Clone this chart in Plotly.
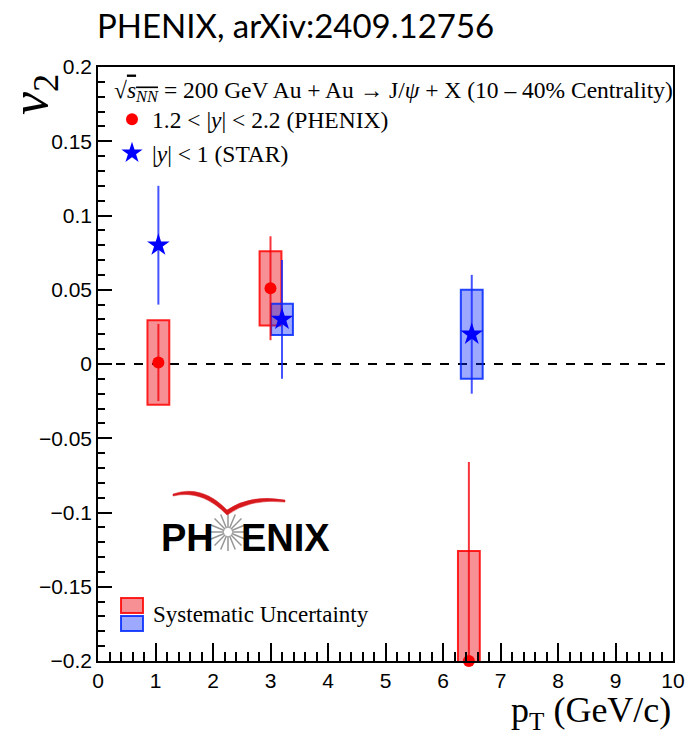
import math
import plotly.graph_objects as go

# ---------------- data ----------------
pt_phenix = [1.05, 3.0, 6.45]
v2_phenix = [0.001, 0.051, -0.2]
stat_phenix = [0.026, 0.035, 0.134]
sys_phenix = [0.0285, 0.025, 0.074]

pt_star = [1.05, 3.2, 6.5]
v2_star = [0.08, 0.03, 0.02]
stat_star = [0.04, 0.04, 0.04]
sys_star = [None, 0.0105, 0.03]

x_ticks = list(range(0, 11))
y_ticks = [-0.2, -0.15, -0.1, -0.05, 0, 0.05, 0.1, 0.15, 0.2]

title_text = "PHENIX, arXiv:2409.12756"
header_text = ("√<span style='text-decoration:overline'><i>s</i><sub><i>NN</i></sub></span>"
               " = 200 GeV Au + Au → J/<i>ψ</i> + X (10 – 40% Centrality)")
name_phenix = "1.2 < |<i>y</i>| < 2.2 (PHENIX)"
name_star = "|<i>y</i>| < 1 (STAR)"
sys_label = "Systematic Uncertainty"

# ---------------- styling ----------------
W, H = 685, 734
ML, MR, MT, MB = 98, 12, 67, 73
XR = [0, 10]
YR = [-0.2, 0.2]
RED = "#ff0000"
BLUE = "#0000ff"
RED_FILL = "rgba(235,20,30,0.47)"
RED_LINE = "rgba(255,0,0,0.85)"
BLUE_FILL = "rgba(10,40,255,0.40)"
BLUE_LINE = "rgba(0,40,255,0.85)"
BOX_W = 0.38
SERIF = "Liberation Serif"
SANS = "Liberation Sans"

pw = W - ML - MR
ph = H - MT - MB


def px2x(px):
    return XR[0] + (px - ML) / pw * (XR[1] - XR[0])


def px2y(py):
    return YR[1] - (py - MT) / ph * (YR[1] - YR[0])


fig = go.Figure()

# systematic boxes
def sys_bars(xs, ys, ss, fill, line):
    bx, by, bb = [], [], []
    for x, y, s in zip(xs, ys, ss):
        if s is None:
            continue
        bx.append(x)
        by.append(2 * s)
        bb.append(y - s)
    return go.Bar(x=bx, y=by, base=bb, width=BOX_W, marker=dict(color=fill, line=dict(color=line, width=2)),
                  showlegend=False, hoverinfo="skip")


fig.add_trace(sys_bars(pt_phenix, v2_phenix, sys_phenix, RED_FILL, RED_LINE))
fig.add_trace(sys_bars(pt_star, v2_star, sys_star, BLUE_FILL, BLUE_LINE))

# statistical error bars (clipped at axes)
fig.add_trace(go.Scatter(x=pt_phenix, y=v2_phenix, mode="markers",
                         marker=dict(size=1, color="rgba(0,0,0,0)"),
                         error_y=dict(type="data", array=stat_phenix, width=0, thickness=2,
                                      color="rgba(245,0,10,0.8)"),
                         showlegend=False, hoverinfo="skip", cliponaxis=True))
fig.add_trace(go.Scatter(x=pt_phenix, y=v2_phenix, mode="markers", name=name_phenix,
                         marker=dict(size=12, color=RED, symbol="circle"),
                         cliponaxis=False))
fig.add_trace(go.Scatter(x=pt_star, y=v2_star, mode="markers",
                         marker=dict(size=1, color="rgba(0,0,0,0)"),
                         error_y=dict(type="data", array=stat_star, width=0, thickness=2,
                                      color="rgba(20,40,255,0.8)"),
                         showlegend=False, hoverinfo="skip", cliponaxis=True))
fig.add_trace(go.Scatter(x=pt_star, y=v2_star, mode="markers", name=name_star,
                         marker=dict(size=17, color=BLUE, symbol="star"),
                         cliponaxis=False))

shapes = []
# dashed zero line
shapes.append(dict(type="line", xref="x", yref="y", x0=XR[0], x1=XR[1], y0=0, y1=0,
                   line=dict(color="black", width=2, dash="dash"), layer="below"))

# Systematic uncertainty legend boxes
shapes.append(dict(type="rect", xref="x", yref="y", x0=px2x(121), x1=px2x(143), y0=px2y(613), y1=px2y(598),
                   fillcolor=RED_FILL, line=dict(color=RED_LINE, width=2)))
shapes.append(dict(type="rect", xref="x", yref="y", x0=px2x(121), x1=px2x(143), y0=px2y(631), y1=px2y(616),
                   fillcolor=BLUE_FILL, line=dict(color=BLUE_LINE, width=2)))

# PHENIX logo: starburst
cx, cy = 228, 532
for k in range(16):
    a = 2 * math.pi * k / 16
    shapes.append(dict(type="line", xref="x", yref="y",
                       x0=px2x(cx + 4 * math.cos(a)), y0=px2y(cy + 4 * math.sin(a)),
                       x1=px2x(cx + 19 * math.cos(a)), y1=px2y(cy + 19 * math.sin(a)),
                       line=dict(color="rgb(150,150,150)", width=1.5)))

# PHENIX logo: red swoosh
def P(px, py):
    return f"{px2x(px):.5f},{px2y(py):.6f}"

swoosh = (f"M{P(173,494)} Q{P(202,484)} {P(227,510)} Q{P(250,494)} {P(285,500)} "
          f"L{P(285,502)} Q{P(250,498)} {P(227,515)} Q{P(202,489)} {P(173,496)} Z")
shapes.append(dict(type="path", xref="x", yref="y", path=swoosh,
                   fillcolor="rgb(215,25,30)", line=dict(color="rgb(215,25,30)", width=0.5)))

annotations = []
annotations.append(dict(text=title_text, xref="paper", yref="paper",
                        x=(95 - ML) / pw, y=(H - MB - 25) / ph, xanchor="left", yanchor="middle",
                        showarrow=False, font=dict(family="Lato", size=33, color="black")))
annotations.append(dict(text="<i>v</i><sub>2</sub>", xref="paper", yref="paper",
                        x=(33 - ML) / pw, y=(H - MB - 95) / ph, xanchor="center", yanchor="middle",
                        textangle=-90, showarrow=False, font=dict(family=SERIF, size=52, color="black")))
annotations.append(dict(text="p<sub>T</sub> (GeV/c)", xref="paper", yref="paper",
                        x=1.0, y=(H - MB - 712) / ph, xanchor="right", yanchor="middle",
                        showarrow=False, font=dict(family=SERIF, size=36, color="black")))
annotations.append(dict(text=sys_label, xref="x", yref="y", x=px2x(151), y=px2y(614),
                        xanchor="left", yanchor="middle", showarrow=False,
                        font=dict(family=SERIF, size=23, color="black")))
annotations.append(dict(text="<b>PH</b>", xref="x", yref="y", x=px2x(216), y=px2y(538),
                        xanchor="right", yanchor="middle", showarrow=False,
                        font=dict(family=SANS, size=38, color="black")))
annotations.append(dict(text="<b>ENIX</b>", xref="x", yref="y", x=px2x(239), y=px2y(538),
                        xanchor="left", yanchor="middle", showarrow=False,
                        font=dict(family=SANS, size=38, color="black")))

tickfont = dict(family=SANS, size=21, color="black")

fig.update_layout(
    width=W, height=H,
    margin=dict(l=ML, r=MR, t=MT, b=MB, autoexpand=False),
    paper_bgcolor="white", plot_bgcolor="white",
    barmode="overlay",
    shapes=shapes, annotations=annotations,
    legend=dict(x=(112 - ML) / pw, y=(H - MB - 67) / ph, xanchor="left", yanchor="top",
                bgcolor="rgba(0,0,0,0)", font=dict(family=SERIF, size=23.5, color="black"),
                title=dict(text=header_text, font=dict(family=SERIF, size=23.5, color="black")),
                tracegroupgap=0, itemwidth=30),
    xaxis=dict(range=XR, tickvals=x_ticks, ticks="inside", ticklen=18, tickwidth=1.5, tickcolor="black",
               showline=True, linecolor="black", linewidth=1.5, mirror=True, showgrid=False,
               zeroline=False, tickfont=tickfont, automargin=False,
               minor=dict(ticks="inside", ticklen=9, dtick=0.2, tickwidth=1.5, tickcolor="black", showgrid=False)),
    yaxis=dict(range=YR, tickvals=y_ticks, ticks="inside", ticklen=14, tickwidth=1.5, tickcolor="black",
               showline=True, linecolor="black", linewidth=1.5, mirror=True, showgrid=False,
               zeroline=False, tickfont=tickfont, automargin=False,
               minor=dict(ticks="inside", ticklen=7, dtick=0.01, tickwidth=1.5, tickcolor="black", showgrid=False)),
)

fig.write_html("out.html")
